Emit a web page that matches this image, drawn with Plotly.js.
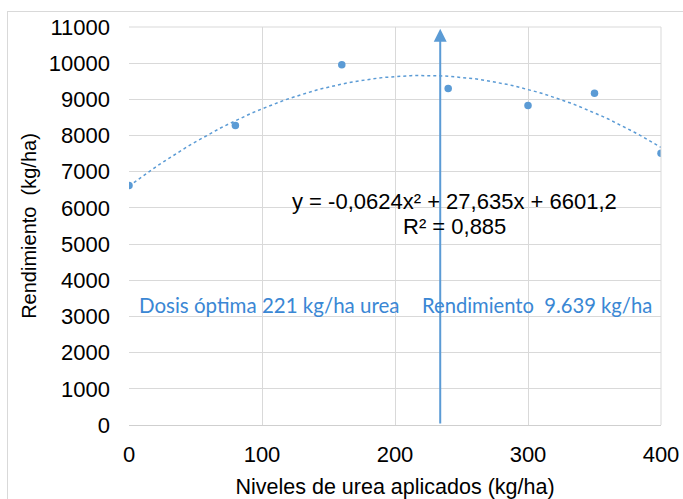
<!DOCTYPE html>
<html><head><meta charset="utf-8">
<script src="https://cdn.plot.ly/plotly-3.0.1.min.js"></script>
<style>
html,body{margin:0;padding:0;background:#fff;overflow:hidden;}
#frame{position:absolute;left:7px;top:11px;width:720px;height:520px;border:1px solid #d9d9d9;}
#chart{position:absolute;left:0;top:0;width:683px;height:499px;}
</style></head>
<body>
<div id="frame"></div>
<div id="chart"></div>
<script>
// Data
var ureaLevels = [0, 80, 160, 240, 300, 350, 400];
var yieldValues = [6620, 8280, 9960, 9300, 8830, 9170, 7510];
// Trendline coefficients as printed on the chart (a x^2 + b x + c)
var trendCoef = [-0.0624, 27.635, 6601.2];
var optimalDose = 234;
var equationLine1 = "y = -0,0624x² + 27,635x + 6601,2";
var equationLine2 = "R² = 0,885";
var doseText = "Dosis óptima 221 kg/ha urea";
var yieldText = "Rendimiento  9.639 kg/ha";
var xTicks = [0, 100, 200, 300, 400];
var yTicks = [0,1000,2000,3000,4000,5000,6000,7000,8000,9000,10000,11000];
var yTickLabels = ['0','1000','2000','3000','4000','5000','6000','7000','8000','9000','10000','11000'];

var trendX = [], trendY = [];
for (var x = 0; x <= 400; x += 4) {
  trendX.push(x);
  trendY.push(trendCoef[0]*x*x + trendCoef[1]*x + trendCoef[2]);
}

var blue = '#5b9bd5';
var traces = [
  {x: trendX, y: trendY, mode: 'lines', line: {color: blue, width: 1.5, dash: 'dot'}, hoverinfo: 'skip'},
  {x: ureaLevels, y: yieldValues, mode: 'markers', marker: {color: blue, size: 7.5}}
];

var font = 'Liberation Sans, Arial, sans-serif';
var layout = {
  width: 683, height: 499,
  margin: {l: 129, r: 22, t: 27, b: 74},
  paper_bgcolor: 'rgba(0,0,0,0)', plot_bgcolor: '#fff',
  showlegend: false,
  xaxis: {
    range: [0, 400], tickvals: xTicks, ticks: '', showgrid: true, gridcolor: '#d9d9d9', gridwidth: 1,
    zeroline: false, showline: true, linecolor: '#cfcfcf', mirror: false,
    tickfont: {family: font, size: 22, color: '#000'}, ticklabelstandoff: 10,
    title: {text: 'Niveles de urea aplicados (kg/ha)', font: {family: font, size: 21.5, color: '#000'}, standoff: 12}
  },
  yaxis: {
    range: [0, 11000], tickvals: yTicks, ticktext: yTickLabels, ticks: '', showgrid: true, gridcolor: '#d9d9d9', gridwidth: 1,
    zeroline: false, showline: false,
    tickfont: {family: font, size: 22, color: '#000'}, ticklabelstandoff: 18,
    title: {text: 'Rendimiento  (kg/ha)', font: {family: font, size: 20, color: '#000'}, standoff: 6}
  },
  shapes: [
    {type: 'line', xref: 'paper', yref: 'paper', x0: 1, x1: 1, y0: 0, y1: 1, line: {color: '#d9d9d9', width: 1}},
    {type: 'line', xref: 'paper', yref: 'paper', x0: 0, x1: 1, y0: 1, y1: 1, line: {color: '#d9d9d9', width: 1}}
  ],
  annotations: [
    {x: optimalDose, y: 10950, ax: optimalDose, ay: 0, xref: 'x', yref: 'y', axref: 'x', ayref: 'y',
     text: '', showarrow: true, arrowhead: 2, arrowsize: 1.3, arrowwidth: 2, arrowcolor: '#5b9bd5'},
    {x: 245, y: 6177, xref: 'x', yref: 'y', text: equationLine1, showarrow: false,
     font: {family: font, size: 22, color: '#000'}},
    {x: 245, y: 5486, xref: 'x', yref: 'y', text: equationLine2, showarrow: false,
     font: {family: font, size: 22, color: '#000'}},
    {x: 6, y: 3330, xref: 'x', yref: 'y', xanchor: 'left', text: doseText, showarrow: false,
     font: {family: 'Lato, Carlito, sans-serif', size: 20.5, color: '#3a87d4'}},
    {x: 219, y: 3330, xref: 'x', yref: 'y', xanchor: 'left', text: yieldText, showarrow: false,
     font: {family: 'Lato, Carlito, sans-serif', size: 20.2, color: '#3a87d4'}}
  ]
};
Plotly.newPlot('chart', traces, layout, {displayModeBar: false, staticPlot: true});
</script>
</body></html>
